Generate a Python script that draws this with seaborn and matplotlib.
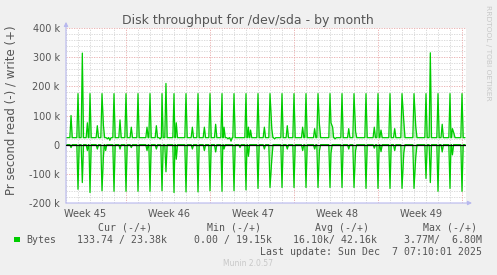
import numpy as np
import pandas as pd
import matplotlib
matplotlib.use("Agg")
import matplotlib.pyplot as plt
import seaborn as sns
from matplotlib.patches import Rectangle
from matplotlib.ticker import FixedLocator

# ---------------- data ----------------
title = "Disk throughput for /dev/sda - by month"
ylabel = "Pr second read (-) / write (+)"
watermark = "RRDTOOL / TOBI OETIKER"
week_labels = ["Week 45", "Week 46", "Week 47", "Week 48", "Week 49"]
week_label_days = [1.55, 8.55, 15.55, 22.55, 29.55]
week_boundary_days = [5, 12, 19, 26, 33]
day_grid = list(range(0, 34))
ytick_vals = [-200000, -100000, 0, 100000, 200000, 300000, 400000]
ytick_labels = ["-200 k", "-100 k", "0", "100 k", "200 k", "300 k", "400 k"]

# write (+) series: baseline plus spikes (day, kB/s)
write_base_k = 24
write_daily_days = list(range(1, 34))
write_daily_k = [175, 175, 175, 175, 175, 175, 175, 175, 175, 175,
                 175, 175, 175, 175, 175, 175, 175, 175, 175, 175,
                 175, 175, 175, 175, 175, 175, 175, 175, 175, 175,
                 175, 175, 175]
write_extra_days = [0.42, 1.36, 1.78, 2.61, 3.12, 3.45, 3.65, 4.5, 5.44, 6.75,
                    7.53, 7.85, 8.33, 9.19, 10.53, 11.53, 12.47, 13.17, 13.5, 13.75,
                    15.2, 15.38, 16.53, 17.15, 17.38, 18.44, 19.72, 20.72, 21.12,
                    22.08, 22.22, 22.42, 23.56, 24.13, 25.69, 26.25, 27.39, 28.15,
                    29.15, 30.36, 31.35, 32.2, 32.32]
write_extra_k = [100, 314, 75, 65, 65, 20, 15, 85, 60, 60,
                 65, 20, 210, 75, 60, 60, 70, 60, 20, 12,
                 60, 50, 60, 55, 20, 65, 60, 55, 70,
                 75, 60, 20, 55, 45, 60, 50, 55, 80,
                 60, 315, 70, 55, 40]

# read (-) series: baseline plus spikes (day, kB/s, negative)
read_base_k = 0
read_daily_days = list(range(1, 34))
read_daily_k = [-153, -164, -158, -160, -160, -160, -160, -158, -164, -162,
                -162, -158, -160, -158, -155, -150, -147, -147, -147, -147,
                -147, -147, -147, -147, -150, -150, -150, -150, -150, -116,
                -160, -150, -160]
read_extra_days = [0.42, 1.36, 1.78, 2.61, 3.12, 3.3, 4.5, 5.44, 6.75, 7.53,
                   8.33, 9.19, 10.53, 11.53, 12.47, 13.17, 14.5, 15.2, 16.53,
                   17.15, 18.44, 19.72, 20.72, 21.12, 22.08, 23.56, 24.13, 25.69,
                   26.25, 27.39, 28.15, 29.15, 30.36, 31.35, 32.2]
read_extra_k = [-10, -130, -20, -15, -40, -20, -15, -10, -20, -15,
                -93, -50, -15, -20, -25, -15, -10, -40, -15,
                -50, -15, -20, -15, -20, -30, -15, -20, -12,
                -24, -20, -28, -40, -130, -25, -35]

legend_name = "Bytes"
legend_headers = ["Cur (-/+)", "Min (-/+)", "Avg (-/+)", "Max (-/+)"]
legend_values = ["133.74 / 23.38k", "0.00 / 19.15k", "16.10k/ 42.16k", "3.77M/  6.80M"]
last_update = "Last update: Sun Dec  7 07:10:01 2025"
munin_version = "Munin 2.0.57"

GREEN = "#00CC00"
LIGHT_GREEN = "#8FE38F"
BG = "#F0F0F0"
TXT = "#555555"

def build_series(days, vals_k, base_k, start, end, half=0.1):
    order = np.argsort(days)
    pts = [(start, base_k)]
    prev = None
    for i in order:
        d, v = days[i], vals_k[i]
        if prev is None:
            pts.append((d - half, base_k))
        else:
            gap = d - prev
            if gap > 0.15:
                h = min(half, gap / 2 - 0.02)
                pts.append((prev + h, base_k))
                pts.append((d - h, base_k))
        pts.append((d, v))
        prev = d
    pts.append((prev + half, base_k))
    pts.append((end, base_k))
    df = pd.DataFrame(pts, columns=["day", "k"])
    df["value"] = df["k"] * 1000
    return df

write_df = build_series(write_daily_days + write_extra_days,
                        write_daily_k + write_extra_k, write_base_k, 0.0, 33.25)
read_df = build_series(read_daily_days + read_extra_days,
                       read_daily_k + read_extra_k, read_base_k, 0.0, 33.25)

# ---------------- figure ----------------
sns.set_style("white")
plt.rcParams["font.family"] = ["DejaVu Sans"]

W, H = 497, 275
fig = plt.figure(figsize=(W / 100, H / 100), dpi=100, facecolor=BG)
ax = fig.add_axes([66 / W, 1 - 203 / H, 400 / W, 175 / H])
ax.set_facecolor("white")
ax.set_xlim(0, 400 / 12)
ax.set_ylim(-200000, 400000)

# grid
for yv in range(-200000, 400001, 20000):
    col = "#E8A8A8" if yv % 100000 == 0 else "#D4D4D4"
    ax.axhline(yv, color=col, lw=0.6, ls=(0, (1.5, 1.5)), zorder=1)
for d in day_grid:
    col = "#E8A8A8" if d in week_boundary_days else "#D4D4D4"
    ax.axvline(d, color=col, lw=0.6, ls=(0, (1.5, 1.5)), zorder=1)

# light anti-aliasing-like fill inside spikes
ax.fill_between(write_df["day"], write_df["value"], write_base_k * 1000,
                color=LIGHT_GREEN, alpha=0.6, lw=0, zorder=2)
ax.fill_between(read_df["day"], read_df["value"], read_base_k * 1000,
                color=LIGHT_GREEN, alpha=0.6, lw=0, zorder=2)

sns.lineplot(data=write_df, x="day", y="value", ax=ax, color=GREEN, lw=0.9,
             estimator=None, sort=False, zorder=3)
sns.lineplot(data=read_df, x="day", y="value", ax=ax, color=GREEN, lw=0.9,
             estimator=None, sort=False, zorder=3)
ax.axhline(0, color="black", lw=0.9, zorder=4)

for s in ax.spines.values():
    s.set_visible(False)

ax.set_xlabel("")
ax.set_ylabel("")
ax.xaxis.set_major_locator(FixedLocator(week_label_days))
ax.set_xticklabels(week_labels)
ax.xaxis.set_minor_locator(FixedLocator(day_grid))
ax.tick_params(axis="x", which="major", length=0, pad=4.5, labelsize=7, labelcolor=TXT)
ax.tick_params(axis="x", which="minor", length=2, color="#C8C8C8", width=0.6)
ax.set_yticks(ytick_vals)
ax.set_yticklabels(ytick_labels)
ax.tick_params(axis="y", which="major", length=2, color="#E8A8A8", width=0.6,
               pad=2.5, labelsize=7, labelcolor=TXT)

# axes with arrows
axis_col = "#B8B8EE"
ax.annotate("", xy=(0, 1.035), xytext=(0, 0), xycoords="axes fraction",
            arrowprops=dict(arrowstyle="-|>", color=axis_col, lw=0.8,
                            mutation_scale=6, shrinkA=0, shrinkB=0))
ax.annotate("", xy=(1.015, 0), xytext=(0, 0), xycoords="axes fraction",
            arrowprops=dict(arrowstyle="-|>", color=axis_col, lw=0.8,
                            mutation_scale=6, shrinkA=0, shrinkB=0))

# texts
fig.text(248 / W, 1 - 24 / H, title, ha="center", va="baseline", fontsize=9, color=TXT)
fig.text(11 / W, 1 - 110 / H, ylabel, rotation=90, ha="center", va="center",
         fontsize=8.5, color=TXT)
fig.text(488 / W, 1 - 53 / H, watermark, rotation=270, ha="center", va="center",
         fontsize=5.4, color="#C8C8C8")

mono = "DejaVu Sans Mono"
hdr_x = [98, 207, 315, 422.7]
val_x = [77.3, 194.3, 293.3, 404]
for t, x in zip(legend_headers, hdr_x):
    fig.text(x / W, 1 - 227.7 / H, t, ha="left", va="center", fontsize=7.1,
             family=mono, color=TXT)
fig.text(26.7 / W, 1 - 239.7 / H, legend_name, ha="left", va="center", fontsize=7.1,
         family=mono, color=TXT)
for t, x in zip(legend_values, val_x):
    fig.text(x / W, 1 - 239.7 / H, t, ha="left", va="center", fontsize=7.1,
             family=mono, color=TXT)
fig.text(482.3 / W, 1 - 251.7 / H, last_update, ha="right", va="center",
         fontsize=7.1, family=mono, color=TXT)
fig.text(248 / W, 1 - 264 / H, munin_version, ha="center", va="center",
         fontsize=5.5, color="#C8C8C8")
fig.patches.append(Rectangle((14 / W, 1 - 242 / H), 5.5 / W, 5.5 / H,
                             transform=fig.transFigure, facecolor=GREEN,
                             edgecolor="none"))

fig.savefig("out.png", dpi=100, facecolor=BG)
